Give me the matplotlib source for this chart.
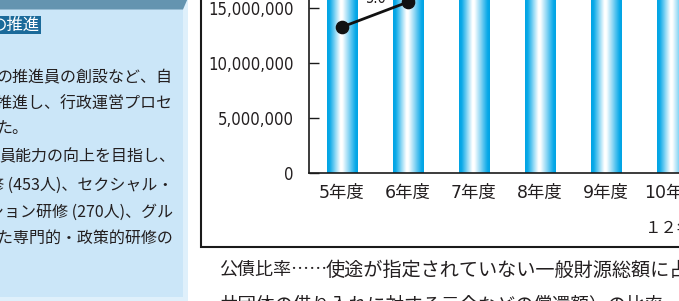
import matplotlib
matplotlib.use("Agg")
import matplotlib.pyplot as plt
import matplotlib.transforms as mtrans
from matplotlib.patches import Rectangle, Polygon
from matplotlib.colors import LinearSegmentedColormap
from matplotlib import font_manager
import numpy as np

# ---------------- data ----------------
years = ["5年度", "6年度", "7年度", "8年度", "9年度", "10年度"]
debt_balance = [17500000, 18600000, 19800000, 21000000, 22300000, 23500000]   # bars (tops cut off)
debt_ratio = [4.5, 5.0, 5.6, 6.0, 6.3, 6.5]                                   # line (%)
ratio_label = "5.0"
yticks = [0, 5000000, 10000000, 15000000, 20000000]
ytick_labels = ["0", "5,000,000", "10,000,000", "15,000,000", "20,000,000"]

left_title = "の推進"
left_lines = [
    "の推進員の創設など、自",
    "を推進し、行政運営プロセ",
    "た。",
    "員能力の向上を目指し、",
    "研修 (453人)、セクシャル・",
    "ーション研修 (270人)、グル",
    "した専門的・政策的研修の",
]
bottom_head = "公債比率……"
bottom_line1 = "使途が指定されていない一般財源総額に占める"
bottom_line2 = "共団体の借り入れに対する元金などの償還額）の比率"
note_text = "１２年度末現在"

# ---------------- fonts ----------------
entries = font_manager.fontManager.ttflist
names = {f.name for f in entries}
cjk = "Noto Sans CJK JP"
if "Liberation Sans Narrow" in names:
    num_font = dict(family=["Liberation Sans Narrow"])
elif any(f.name == "DejaVu Sans" and f.stretch == "condensed" for f in entries):
    num_font = dict(family=["DejaVu Sans"], fontstretch="condensed")
else:
    num_font = dict(family=["Liberation Sans"])

W, H = 679, 301
fig = plt.figure(figsize=(W / 100, H / 100), dpi=100)
fig.patch.set_facecolor("white")
px = mtrans.Affine2D().scale(1 / W, -1 / H).translate(0, 1) + fig.transFigure

def fx(x):
    return x / W

def fy(y):
    return 1 - y / H

ink = "#231f20"

# ---------------- left panel ----------------
fig.add_artist(Rectangle((-5, 9), 188, 288, transform=px, facecolor="#cbe6f8", edgecolor="none", zorder=0))
fig.add_artist(Rectangle((183, 0), 5, 301, transform=px, facecolor="#dff0fb", edgecolor="none", zorder=0))
fig.add_artist(Rectangle((-5, 297), 193, 6, transform=px, facecolor="#dff0fb", edgecolor="none", zorder=0))
fig.add_artist(Polygon([(-5, -2), (188, -2), (183, 9.5), (-5, 9.5)], closed=True, transform=px,
                       facecolor="#6494b0", edgecolor="none", zorder=1))
fig.add_artist(Rectangle((-5, 16), 46, 18, transform=px, facecolor="#1b6a9a", edgecolor="none", zorder=1))
fig.text(fx(40), fy(25), left_title, family=[cjk], fontsize=11.8, color="white",
         ha="right", va="center", zorder=2)

line_y = [78, 104, 128, 157, 185, 212, 238]
line_right = [173, 172, 28, 175, 173, 173, 173]
for t, y, xr in zip(left_lines, line_y, line_right):
    fig.text(fx(xr), fy(y), t, family=[cjk], fontsize=11.5, color=ink,
             ha="right", va="center")

# ---------------- chart frame ----------------
fig.add_artist(Rectangle((201, -20), 520, 267, transform=px, facecolor="none",
                         edgecolor="#1a1a1a", linewidth=1.5, zorder=1))

# ---------------- axes ----------------
unit = 55 / 5000000          # px per value
ymax = 25000000
ax_bottom_px = 173
ax_top_px = ax_bottom_px - ymax * unit
ax_left_px = 309
cat_w = 66
ax_right_px = ax_left_px + cat_w * len(years)
ax = fig.add_axes([fx(ax_left_px), fy(ax_bottom_px), (ax_right_px - ax_left_px) / W,
                   (ax_bottom_px - ax_top_px) / H])
ax.patch.set_alpha(0)

xpos = np.arange(len(years))
bars = ax.bar(xpos, debt_balance, width=0.455, facecolor="none", edgecolor="none")

cmap = LinearSegmentedColormap.from_list(
    "bar", [(0.0, "#00a4e4"), (0.08, "#0aa9e8"), (0.43, "#ffffff"),
            (0.5, "#ffffff"), (0.93, "#08a8e8"), (1.0, "#00a4e4")])
grad = np.linspace(0, 1, 64).reshape(1, -1)
for b in bars:
    x0, w, h = b.get_x(), b.get_width(), b.get_height()
    ax.imshow(grad, extent=[x0, x0 + w, 0, h], aspect="auto", cmap=cmap,
              interpolation="bilinear", zorder=2)

ax.set_xlim(-0.5, len(years) - 0.5)
ax.set_ylim(0, ymax)
ax.set_xticks(xpos)
ax.set_xticklabels(years, family=num_font["family"] + [cjk], fontsize=12.5, color=ink)
ax.set_yticks(yticks)
ax.set_yticklabels(ytick_labels, fontsize=12, color=ink, **num_font)
ax.tick_params(axis="y", direction="in", length=7.2, width=1, pad=11, color="#1a1a1a")
ax.tick_params(axis="x", length=0, pad=8)
for s in ["top", "right"]:
    ax.spines[s].set_visible(False)
for s in ["left", "bottom"]:
    ax.spines[s].set_linewidth(1.2)
    ax.spines[s].set_color("#1a1a1a")

# secondary axis for the ratio line
ax2 = ax.twinx()
r_per_px = (debt_ratio[1] - debt_ratio[0]) / 25.0
r_bottom = debt_ratio[1] - (ax_bottom_px - 2) * r_per_px
r_top = debt_ratio[1] + (2 - ax_top_px) * r_per_px
ax2.set_ylim(r_bottom, r_top)
ax2.plot(xpos, debt_ratio, color="#111111", linewidth=2, marker="o", markersize=8.8, zorder=5)
ax2.annotate(ratio_label, xy=(xpos[1], debt_ratio[1]), xytext=(-32, -1),
             textcoords="offset pixels", ha="center", va="baseline",
             fontsize=10.5, color=ink, **num_font)
ax2.set_yticks([])
for s in ax2.spines.values():
    s.set_visible(False)

# note under the axis
fig.text(fx(645), fy(228), note_text, family=[cjk], fontsize=11.8, color=ink,
         ha="left", va="center")

# ---------------- bottom text ----------------
fig.text(fx(219), fy(270), bottom_head, family=[cjk], fontsize=13, color=ink,
         ha="left", va="center")
fig.text(fx(326), fy(270), bottom_line1, family=[cjk], fontsize=13.8, color=ink,
         ha="left", va="center")
fig.text(fx(219), fy(305), bottom_line2, family=[cjk], fontsize=13.3, color=ink,
         ha="left", va="center")

fig.savefig("out.png", dpi=100)
